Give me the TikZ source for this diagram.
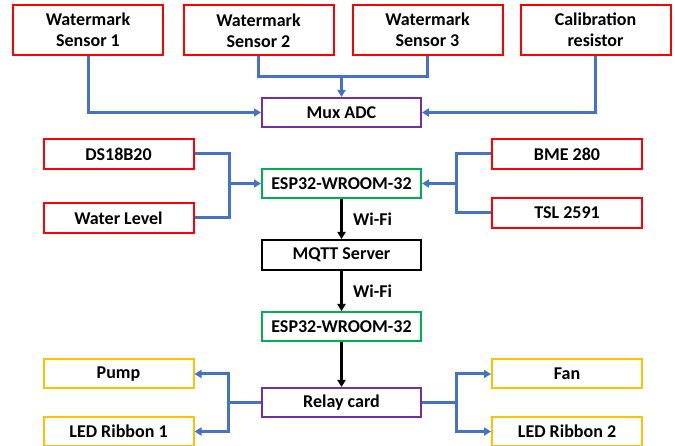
\documentclass[tikz,border=0pt]{standalone}
\usepackage{fontspec}
\setmainfont{Carlito}
\usetikzlibrary{arrows.meta}
\definecolor{bred}{RGB}{255,0,0}
\definecolor{bpurple}{RGB}{112,48,160}
\definecolor{bgreen}{RGB}{0,176,80}
\definecolor{byellow}{RGB}{255,192,0}
\definecolor{bblue}{RGB}{68,114,196}
\begin{document}
\begin{tikzpicture}[x=1pt,y=-1pt,
  basebox/.style={line width=2pt,inner sep=0pt,align=center,
    font=\fontsize{18}{21}\selectfont\bfseries},
  redbox/.style={basebox,draw=bred,minimum width=150pt},
  purplebox/.style={basebox,draw=bpurple,minimum width=159pt,minimum height=29pt},
  greenbox/.style={basebox,draw=bgreen,minimum width=159pt,minimum height=29pt},
  blackbox/.style={basebox,draw=black,minimum width=159pt,minimum height=30pt},
  yellowbox/.style={basebox,draw=byellow,minimum width=150pt,minimum height=29pt},
  conn/.style={draw=bblue,line width=3pt},
  barrow/.style={conn,-{Triangle[length=7pt,width=8pt]}},
  karrow/.style={draw=black,line width=2.6pt,-{Triangle[length=7pt,width=8pt]}},
  lbl/.style={font=\fontsize{18}{21}\selectfont\bfseries,anchor=west}]
\useasboundingbox (0,0) rectangle (675,446);
% top row
\node[redbox,minimum height=50pt] (ws1) at (88,30) {Watermark\\Sensor 1};
\node[redbox,minimum height=50pt] (ws2) at (258.5,30.5) {Watermark\\Sensor 2};
\node[redbox,minimum height=50pt] (ws3) at (427.5,30) {Watermark\\Sensor 3};
\node[redbox,minimum height=50pt] (cal) at (595.5,30) {Calibration\\resistor};
\node[purplebox] (mux) at (341.5,112.5) {Mux ADC};
% middle
\node[redbox,minimum height=30pt] (ds) at (118.5,154) {DS18B20};
\node[redbox,minimum height=30pt] (wl) at (118.5,218) {Water Level};
\node[greenbox] (esp1) at (341.5,183.5) {ESP32-WROOM-32};
\node[redbox,minimum height=30pt] (bme) at (567,154) {BME 280};
\node[redbox,minimum height=30pt] (tsl) at (567,213) {TSL 2591};
\node[blackbox] (mqtt) at (341.5,255) {MQTT Server};
\node[greenbox] (esp2) at (341.5,326.5) {ESP32-WROOM-32};
% bottom
\node[purplebox] (relay) at (341.5,402.5) {Relay card};
\node[yellowbox] (pump) at (118.5,374) {Pump};
\node[yellowbox] (led1) at (118.5,431.5) {LED Ribbon 1};
\node[yellowbox] (fan) at (567,374) {Fan};
\node[yellowbox] (led2) at (567,431.5) {LED Ribbon 2};
% junctions
\coordinate (jt) at (341.5,77);
\coordinate (jl) at (229,183.5);
\coordinate (jr) at (456,183.5);
\coordinate (jbl) at (228,402.5);
\coordinate (jbr) at (456,402.5);
% connectors top
\draw[barrow] (ws1.south) |- (mux.west);
\draw[conn] (ws2.south) |- (jt);
\draw[conn] (ws3.south) |- (jt);
\draw[barrow] (jt) -- (mux.north);
\draw[barrow] (cal.south) |- (mux.east);
% middle
\draw[conn] (ds.east) -| (jl) |- (wl.east);
\draw[barrow] (jl) -- (esp1.west);
\draw[conn] (bme.west) -| (jr) |- (tsl.west);
\draw[barrow] (jr) -- (esp1.east);
\draw[karrow] (esp1.south) -- node[lbl,xshift=7pt,pos=0.5] {Wi-Fi} (mqtt.north);
\draw[karrow] (mqtt.south) -- node[lbl,xshift=7pt,pos=0.5] {Wi-Fi} (esp2.north);
\draw[karrow] (esp2.south) -- (relay.north);
% bottom
\draw[conn] (relay.west) -- (jbl);
\draw[barrow] (jbl) |- (pump.east);
\draw[barrow] (jbl) |- (led1.east);
\draw[conn] (relay.east) -- (jbr);
\draw[barrow] (jbr) |- (fan.west);
\draw[barrow] (jbr) |- (led2.west);
\end{tikzpicture}
\end{document}
